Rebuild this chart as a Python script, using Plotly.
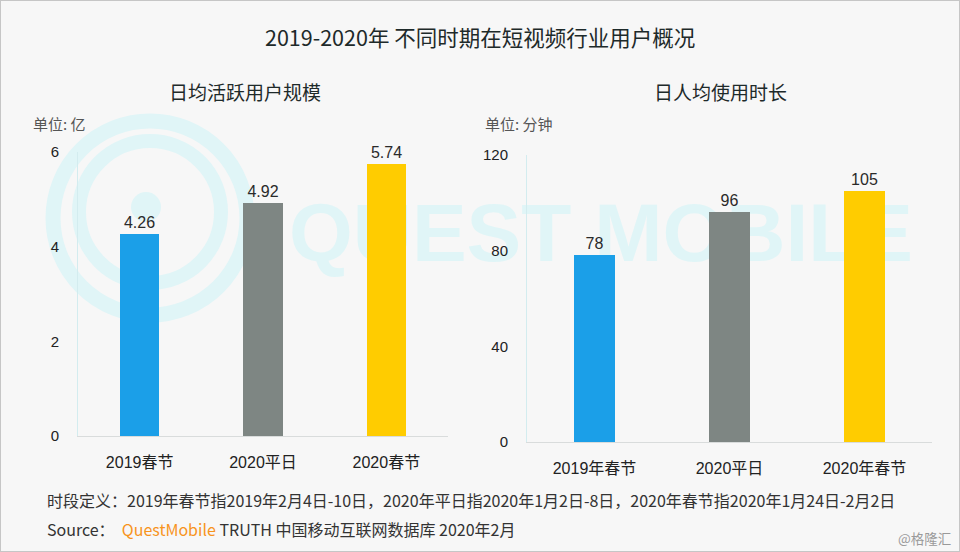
import plotly.graph_objects as go

# ---------------- data ----------------
cats_left = ["2019春节", "2020平日", "2020春节"]
dau_values = [4.26, 4.92, 5.74]
cats_right = ["2019年春节", "2020平日", "2020年春节"]
time_values = [78, 96, 105]
bar_colors = ["#1b9fe8", "#7e8683", "#ffcc00"]
left_ticks = [0, 2, 4, 6]
right_ticks = [0, 40, 80, 120]

W, H = 960, 552
CJK = "Noto Sans CJK SC"
NUM = "Liberation Sans, Noto Sans CJK SC"

def px(x):
    return x / W

def py(y):
    return 1 - y / H

fig = go.Figure()

# watermark text (first subplot, drawn under the bar subplots)
fig.add_trace(go.Scatter(
    x=[601], y=[240], mode="text", text=["<b>QUEST MOBILE</b>"],
    textfont=dict(family="Liberation Sans", size=82, color="#e0f5f7"),
    xaxis="x", yaxis="y", hoverinfo="skip", showlegend=False,
))

fig.add_trace(go.Bar(
    x=cats_left, y=dau_values, marker=dict(color=bar_colors, line=dict(width=0)),
    width=0.32, text=[f"{v:.2f}" for v in dau_values], textposition="outside",
    textfont=dict(family=NUM, size=16, color="#2a2a2a"), cliponaxis=False,
    xaxis="x2", yaxis="y2", showlegend=False,
))
fig.add_trace(go.Bar(
    x=cats_right, y=time_values, marker=dict(color=bar_colors, line=dict(width=0)),
    width=0.31, text=[str(v) for v in time_values], textposition="outside",
    textfont=dict(family=NUM, size=16, color="#2a2a2a"), cliponaxis=False,
    xaxis="x3", yaxis="y3", showlegend=False,
))

hidden = dict(visible=False, fixedrange=True, automargin=False)
common_x = dict(showgrid=False, zeroline=False, showline=True, linecolor="#d9dcdc",
                linewidth=1, ticks="", tickfont=dict(family=NUM, size=16, color="#222"),
                ticklabelstandoff=12, fixedrange=True, automargin=False)
common_y = dict(showgrid=False, zeroline=False, showline=True, linecolor="#d3ecef",
                linewidth=1, ticks="", tickfont=dict(family=NUM, size=15, color="#222"),
                ticklabelstandoff=15, fixedrange=True, automargin=False)

fig.update_layout(
    template="none",
    width=W, height=H, margin=dict(l=0, r=0, t=0, b=0, pad=0, autoexpand=False),
    paper_bgcolor="#f7f7f7", plot_bgcolor="rgba(0,0,0,0)",
    bargap=0.0,
    xaxis=dict(domain=[0, 1], range=[0, W], **hidden),
    yaxis=dict(domain=[0, 1], range=[H, 0], **hidden),
    xaxis2=dict(domain=[px(78), px(448)], anchor="y2", **common_x),
    yaxis2=dict(domain=[py(436), py(152)], anchor="x2", range=[0, 6],
                tickvals=left_ticks, **common_y),
    xaxis3=dict(domain=[px(527), px(932)], anchor="y3", **common_x),
    yaxis3=dict(domain=[py(442), py(155)], anchor="x3", range=[0, 120],
                tickvals=right_ticks, **common_y),
)

# watermark logo rings
ring = "#e0f5f7"
shapes = [
    dict(type="circle", xref="paper", yref="paper", layer="below",
         x0=px(150 - 97), x1=px(150 + 97), y0=py(218 + 97), y1=py(218 - 97),
         line=dict(color=ring, width=15)),
    dict(type="circle", xref="paper", yref="paper", layer="below",
         x0=px(150 - 71), x1=px(150 + 71), y0=py(212 + 71), y1=py(212 - 71),
         line=dict(color=ring, width=14)),
    dict(type="circle", xref="paper", yref="paper", layer="below",
         x0=px(131), x1=px(161), y0=py(222), y1=py(192),
         fillcolor=ring, line=dict(width=0)),
    # border
    dict(type="rect", xref="paper", yref="paper", x0=0, x1=1, y0=0, y1=1,
         line=dict(color="#c6c6c6", width=2), layer="above"),
]
fig.update_layout(shapes=shapes)

ann = []
def text(x, y, s, size, color="#222", family=CJK, xanchor="center"):
    ann.append(dict(x=px(x), y=py(y), xref="paper", yref="paper", text=s,
                    showarrow=False, xanchor=xanchor, yanchor="middle",
                    font=dict(family=family, size=size, color=color)))

text(480, 37, "2019-2020年 不同时期在短视频行业用户概况", 21.5, "#1e2a2a")
text(245, 92, "日均活跃用户规模", 19, "#1e2a2a")
text(720, 92, "日人均使用时长", 19, "#1e2a2a")
text(31, 123, "单位: 亿", 15, "#555", xanchor="left")
text(483, 123, "单位: 分钟", 15, "#555", xanchor="left")
text(45, 500, "时段定义：2019年春节指2019年2月4日-10日，2020年平日指2020年1月2日-8日，2020年春节指2020年1月24日-2月2日",
     16, "#333", xanchor="left")
text(45, 529, "Source：  <span style='color:#f7941d'>QuestMobile</span> TRUTH 中国移动互联网数据库 2020年2月",
     16, "#333", xanchor="left")
text(953, 538, "@格隆汇", 13.5, "#9a9a9a", xanchor="right")
fig.update_layout(annotations=ann)

fig.write_html("out.html")
